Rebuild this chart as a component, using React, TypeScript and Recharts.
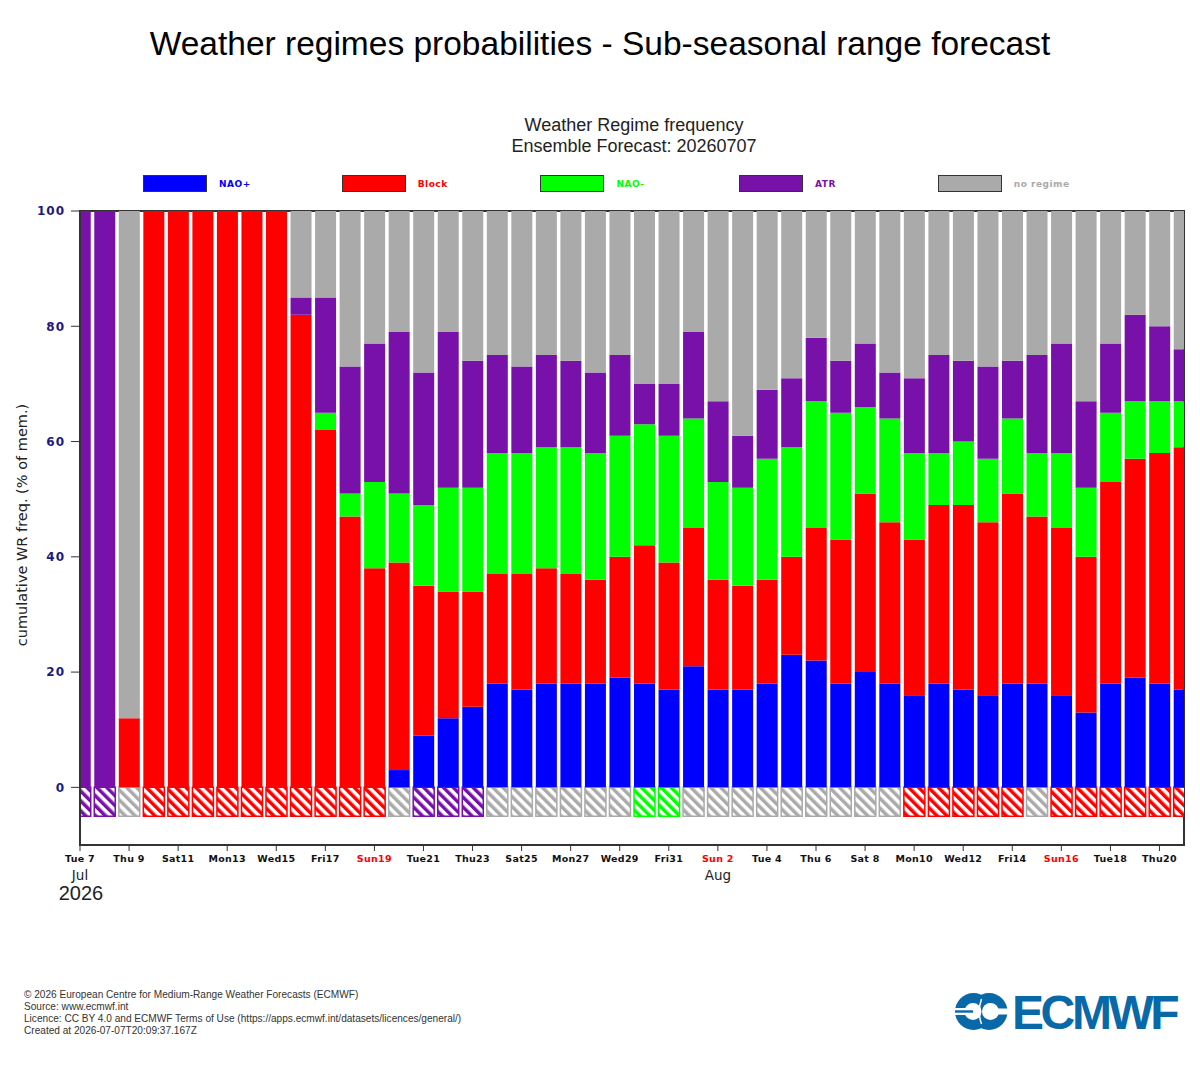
import { BarChart, Bar, XAxis, YAxis, Cell, ReferenceArea } from 'recharts';

// one entry per forecast day, 7 Jul .. 21 Aug 2026
const days = [
    'Tue 7', 'Wed 8', 'Thu 9', 'Fri10', 'Sat11', 'Sun12', 'Mon13', 'Tue14', 'Wed15', 'Thu16',
    'Fri17', 'Sat18', 'Sun19', 'Mon20', 'Tue21', 'Wed22', 'Thu23', 'Fri24', 'Sat25', 'Sun26',
    'Mon27', 'Tue28', 'Wed29', 'Thu30', 'Fri31', 'Sat 1', 'Sun 2', 'Mon 3', 'Tue 4', 'Wed 5',
    'Thu 6', 'Fri 7', 'Sat 8', 'Sun 9', 'Mon10', 'Tue11', 'Wed12', 'Thu13', 'Fri14', 'Sat15',
    'Sun16', 'Mon17', 'Tue18', 'Wed19', 'Thu20', 'Fri21',
];

const naoPlus = [0, 0, 0, 0, 0, 0, 0, 0, 0, 0, 0, 0, 0, 3, 9, 12, 14, 18, 17, 18, 18, 18, 19, 18, 17, 21, 17, 17, 18, 23, 22, 18, 20, 18, 16, 18, 17, 16, 18, 18, 16, 13, 18, 19, 18, 17];
const block = [0, 0, 12, 100, 100, 100, 100, 100, 100, 82, 62, 47, 38, 36, 26, 22, 20, 19, 20, 20, 19, 18, 21, 24, 22, 24, 19, 18, 18, 17, 23, 25, 31, 28, 27, 31, 32, 30, 33, 29, 29, 27, 35, 38, 40, 42];
const naoMinus = [0, 0, 0, 0, 0, 0, 0, 0, 0, 0, 3, 4, 15, 12, 14, 18, 18, 21, 21, 21, 22, 22, 21, 21, 22, 19, 17, 17, 21, 19, 22, 22, 15, 18, 15, 9, 11, 11, 13, 11, 13, 12, 12, 10, 9, 8];
const atr = [100, 100, 0, 0, 0, 0, 0, 0, 0, 3, 20, 22, 24, 28, 23, 27, 22, 17, 15, 16, 15, 14, 14, 7, 9, 15, 14, 9, 12, 12, 11, 9, 11, 8, 13, 17, 14, 16, 10, 17, 19, 15, 12, 15, 13, 9];
const noRegime = [0, 0, 88, 0, 0, 0, 0, 0, 0, 15, 15, 27, 23, 21, 28, 21, 26, 25, 27, 25, 26, 28, 25, 30, 30, 21, 33, 39, 31, 29, 22, 26, 23, 28, 29, 25, 26, 27, 26, 25, 23, 33, 23, 18, 20, 24];

// regime flagged in the hatched box under each bar
const flagged = [
    'atr', 'atr', 'noRegime', 'block', 'block', 'block', 'block', 'block', 'block', 'block',
    'block', 'block', 'block', 'noRegime', 'atr', 'atr', 'atr', 'noRegime', 'noRegime', 'noRegime',
    'noRegime', 'noRegime', 'noRegime', 'naoMinus', 'naoMinus', 'noRegime', 'noRegime', 'noRegime', 'noRegime', 'noRegime',
    'noRegime', 'noRegime', 'noRegime', 'noRegime', 'block', 'block', 'block', 'block', 'block', 'noRegime',
    'block', 'block', 'block', 'block', 'block', 'block',
];

const monthLabels = [
    { day: 0, text: 'Jul', year: '2026' },
    { day: 26, text: 'Aug', year: '' },
];

const yTicks = [0, 20, 40, 60, 80, 100];

const regimes = [
    { key: 'naoPlus', name: 'NAO+', color: '#0000ff' },
    { key: 'block', name: 'Block', color: '#ff0000' },
    { key: 'naoMinus', name: 'NAO-', color: '#00ff00' },
    { key: 'atr', name: 'ATR', color: '#7711aa' },
    { key: 'noRegime', name: 'no regime', color: '#aaaaaa' },
];
const colorOf: Record<string, string> = Object.fromEntries(regimes.map(r => [r.key, r.color]));

const FLAG_DEPTH = -5;

const data = days.map((d, i) => ({
    i,
    naoPlus: naoPlus[i],
    block: block[i],
    naoMinus: naoMinus[i],
    atr: atr[i],
    noRegime: noRegime[i],
    flag: FLAG_DEPTH,
}));

const xTicks = days.map((_, i) => i).filter(i => i % 2 === 0);

function DayTick(props: any) {
    const { x, y, payload } = props;
    const i = payload.value as number;
    const label = days[i];
    const month = monthLabels.find(m => m.day === i);
    return (
        <g>
            <text x={x} y={y + 9} textAnchor="middle" fontSize={9.5} fontWeight="bold"
                fontFamily="DejaVu Sans" letterSpacing={0.3}
                fill={label.startsWith('Sun') ? '#ff0000' : '#111'}>
                {label}
            </text>
            {month && (
                <text x={x} y={y + 27} textAnchor="middle" fontSize={13.5} fontFamily="DejaVu Sans" fill="#222">
                    {month.text}
                </text>
            )}
            {month && month.year && (
                <text x={x + 1} y={y + 47} textAnchor="middle" fontSize={20} fontFamily="Liberation Sans" fill="#222">
                    {month.year}
                </text>
            )}
        </g>
    );
}

const LOGO_BLUE = '#0868a8';

function EcmwfLogo() {
    return (
        <>
            <svg width={64} height={50} style={{ position: 'absolute', left: 950, top: 987 }}>
                <circle cx={23.5} cy={24.5} r={18.5} fill={LOGO_BLUE} />
                <circle cx={39} cy={24.5} r={18.5} fill={LOGO_BLUE} />
                <circle cx={23} cy={24.5} r={8.5} fill="#fff" />
                <circle cx={40.5} cy={24.5} r={8.5} fill="#fff" />
                <rect x={40} y={21.5} width={20} height={6} fill="#fff" />
                <rect x={3} y={21} width={20} height={7} fill="#fff" />
                <rect x={5} y={23.3} width={18} height={2.4} fill={LOGO_BLUE} />
                <path d="M 31.5 12 Q 27 24.5 31.5 37" stroke="#fff" strokeWidth={1.5} fill="none" />
            </svg>
            <div style={{
                position: 'absolute', left: 1012, top: 989, fontFamily: 'Liberation Sans', fontWeight: 'bold',
                fontSize: 48, lineHeight: '48px', letterSpacing: -3.4, color: LOGO_BLUE, whiteSpace: 'nowrap',
            }}>
                ECMWF
            </div>
        </>
    );
}

export default function App() {
    return (
        <div style={{ position: 'relative', width: 1200, height: 1080, background: '#fff', fontFamily: 'Liberation Sans, Arial, sans-serif' }}>
            <style>{'body{margin:0}'}</style>
            <div style={{ position: 'absolute', top: 25, width: 1200, textAlign: 'center', fontSize: 33.5, color: '#000' }}>
                Weather regimes probabilities - Sub-seasonal range forecast
            </div>
            <div style={{ position: 'absolute', top: 115, left: 434, width: 400, textAlign: 'center', fontSize: 18, lineHeight: '21px', color: '#222' }}>
                Weather Regime frequency<br />Ensemble Forecast: 20260707
            </div>
            {regimes.map((r, k) => (
                <div key={r.key} style={{ position: 'absolute', top: 175, left: 143 + k * 198.7, display: 'flex', alignItems: 'center' }}>
                    <div style={{ width: 62, height: 15, background: r.color, border: '1px solid #333' }} />
                    <span style={{ marginLeft: 12, fontFamily: 'DejaVu Sans', fontWeight: 'bold', fontSize: 9, letterSpacing: 0.5, color: r.color }}>
                        {r.name}
                    </span>
                </div>
            ))}
            <div style={{ position: 'absolute', left: 0, top: 0 }}>
                <BarChart width={1200} height={930} data={data} stackOffset="sign"
                    margin={{ top: 211, right: 16, bottom: 25, left: 20 }}>
                    <defs>
                        {regimes.map(r => (
                            <pattern key={r.key} id={`hatch-${r.key}`} patternUnits="userSpaceOnUse"
                                width={7} height={7} patternTransform="rotate(-45)">
                                <rect width={7} height={7} fill="#fff" />
                                <rect width={3.5} height={7} fill={r.color} />
                            </pattern>
                        ))}
                    </defs>
                    <XAxis type="number" dataKey="i" domain={[0, 45]} ticks={xTicks} allowDataOverflow
                        interval={0} height={60} tickSize={6} tickMargin={2}
                        axisLine={{ stroke: '#333', strokeWidth: 2 }} tickLine={{ stroke: '#333' }}
                        tick={<DayTick />} />
                    <YAxis type="number" domain={[-10, 100]} ticks={yTicks} allowDataOverflow width={60}
                        tickSize={9} tickMargin={6} axisLine={{ stroke: '#333', strokeWidth: 2 }}
                        tickLine={{ stroke: '#333' }}
                        tick={{ fill: '#1a1a80', fontSize: 12, fontWeight: 'bold', fontFamily: 'DejaVu Sans', letterSpacing: 1 }} />
                    <Bar dataKey="flag" stackId="wr" barSize={21} isAnimationActive={false} legendType="none">
                        {data.map((_, i) => (
                            <Cell key={`flag-${i}`} fill={`url(#hatch-${flagged[i]})`} stroke={colorOf[flagged[i]]} strokeWidth={1.5} />
                        ))}
                    </Bar>
                    {regimes.map(r => (
                        <Bar key={r.key} dataKey={r.key} name={r.name} stackId="wr" fill={r.color}
                            barSize={21} isAnimationActive={false} />
                    ))}
                    <ReferenceArea x1={0} x2={45} y1={-10} y2={100} fill="none" stroke="#333" strokeWidth={2} ifOverflow="visible" />
                </BarChart>
            </div>
            <div style={{ position: 'absolute', left: 12, top: 375, width: 20, height: 300 }}>
                <div style={{
                    position: 'absolute', left: 10, top: 150, transform: 'translate(-50%, -50%) rotate(-90deg)',
                    whiteSpace: 'nowrap', fontFamily: 'DejaVu Sans', fontSize: 14.5, color: '#222',
                }}>
                    cumulative WR freq. (% of mem.)
                </div>
            </div>
            <div style={{ position: 'absolute', left: 24, top: 989, fontSize: 10.1, lineHeight: '12px', color: '#333', whiteSpace: 'nowrap' }}>
                © 2026 European Centre for Medium-Range Weather Forecasts (ECMWF)<br />
                Source: www.ecmwf.int<br />
                Licence: CC BY 4.0 and ECMWF Terms of Use (https://apps.ecmwf.int/datasets/licences/general/)<br />
                Created at 2026-07-07T20:09:37.167Z
            </div>
            <EcmwfLogo />
        </div>
    );
}
